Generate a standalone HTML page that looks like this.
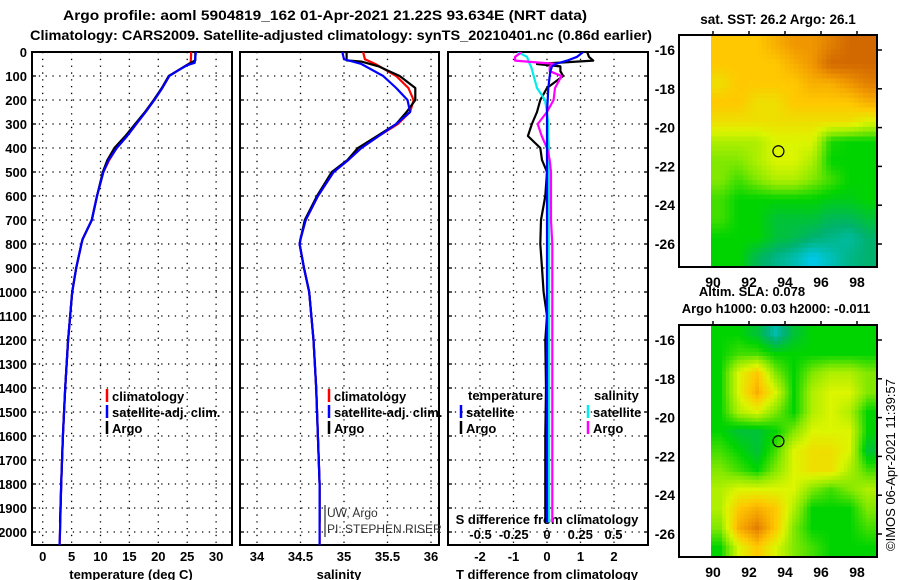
<!DOCTYPE html>
<html><head><meta charset="utf-8"><style>
html,body{margin:0;padding:0;background:#fff;}
svg{display:block;font-family:"Liberation Sans",sans-serif;font-weight:bold;}
</style></head><body>
<svg id="root" width="900" height="580" viewBox="0 0 900 580" xmlns="http://www.w3.org/2000/svg">
<defs>
<clipPath id="c1"><rect x="32" y="52" width="200" height="493"/></clipPath>
<clipPath id="c2"><rect x="240" y="52" width="199" height="493"/></clipPath>
<clipPath id="c3"><rect x="448" y="52" width="200" height="493"/></clipPath>
<clipPath id="cm1"><rect x="711" y="35" width="166" height="232"/></clipPath>
<clipPath id="cm2"><rect x="711" y="325" width="166" height="232"/></clipPath>
</defs>
<text x="325" y="20" text-anchor="middle" font-size="14" textLength="524" lengthAdjust="spacingAndGlyphs">Argo profile: aoml 5904819_162 01-Apr-2021 21.22S 93.634E (NRT data)</text>
<text x="341" y="40" text-anchor="middle" font-size="14" textLength="622" lengthAdjust="spacingAndGlyphs">Climatology: CARS2009. Satellite-adjusted climatology: synTS_20210401.nc (0.86d earlier)</text>
<g id="g"></g>
</svg>
<script>
// ---- data ----
const depthTicks=[0,100,200,300,400,500,600,700,800,900,1000,1100,1200,1300,1400,1500,1600,1700,1800,1900,2000];
const tempTicks=[0,5,10,15,20,25,30];
const salTicks=[34,34.5,35,35.5,36];
const salTickLabels=["34","34.5","35","35.5","36"];
const tdiffTicks=[-2,-1,0,1,2];
const sdiffTicks=[-0.5,-0.25,0,0.25,0.5];
const sdiffTickLabels=["-0.5","-0.25","0","0.25","0.5"];

const argoDepth=[0,35,45,55,80,100,150,200,250,300,350,400,450,500,600,700,780,800,900,1000,1200,1400,1600,1800,1960];
const argoTemp=[26.4,26.4,25.6,24.9,23.2,21.8,20.6,19.2,17.7,16.0,14.3,12.4,11.2,10.4,9.4,8.5,6.9,6.7,5.8,5.1,4.4,3.9,3.5,3.2,3.0];
const climDepth=[0,45,55,80,100,150,200,250,300,350,400,450,500,600,700,780,800,900,1000,1200,1400,1600,1800,2000,2060];
const climTemp=[25.7,25.6,24.9,23.2,21.9,20.7,19.3,17.8,16.2,14.6,12.8,11.5,10.5,9.4,8.5,6.9,6.7,5.8,5.1,4.4,3.9,3.5,3.2,3.0,2.9];
const satTemp=[26.5,26.3,25.0,23.2,21.9,20.7,19.3,17.8,16.2,14.6,12.8,11.4,10.5,9.4,8.5,6.9,6.7,5.8,5.1,4.4,3.9,3.5,3.2,3.0,2.9];

const argoSalDepth=[0,35,40,60,80,100,150,200,250,300,350,400,450,500,600,700,780,800,900,1000,1200,1400,1600,1800,1960];
const argoSal=[35.03,35.03,35.2,35.4,35.52,35.64,35.82,35.82,35.72,35.6,35.38,35.16,35.04,34.86,34.69,34.55,34.5,34.49,34.54,34.6,34.65,34.68,34.7,34.72,34.72];
const climSalDepth=[0,30,50,100,150,200,250,300,350,400,450,500,600,700,780,800,900,1000,1200,1400,1600,1800,2000,2060];
const climSal=[35.22,35.24,35.36,35.6,35.74,35.8,35.76,35.62,35.4,35.2,35.05,34.88,34.7,34.56,34.5,34.49,34.54,34.6,34.65,34.68,34.7,34.72,34.72,34.72];
const satSal=[34.98,35.0,35.2,35.45,35.6,35.73,35.76,35.6,35.4,35.2,35.05,34.88,34.7,34.56,34.5,34.49,34.54,34.6,34.65,34.68,34.7,34.72,34.72,34.72];

const dDepth=[0,20,36,50,60,80,100,150,200,250,300,350,400,450,500,600,700,800,900,1000,1100,1200,1400,1600,1800,1960];
const tdiffArgo=[1.2,1.25,1.38,-0.3,0.4,0.4,0.48,0.0,-0.2,-0.3,-0.45,-0.57,-0.2,-0.15,0.0,-0.05,-0.18,-0.2,-0.15,-0.1,0.0,-0.05,-0.03,-0.05,-0.05,-0.05];
const tdiffSat=[1.08,0.9,0.6,0.25,0.15,0.1,0.08,0.04,0.02,0.0,0.0,0.0,0.0,0.0,0.0,0.0,0.0,0.0,0.0,0.0,0.0,0.0,0.0,0.0,0.0,0.0];
const sdiffArgo=[-0.19,-0.24,-0.24,0.07,0.02,0.02,0.11,0.06,0.05,0.0,-0.07,-0.04,0.0,0.02,0.03,0.03,0.03,0.04,0.04,0.04,0.04,0.04,0.04,0.04,0.04,0.04];
const sdiffSat=[-0.22,-0.15,-0.14,-0.13,-0.12,-0.11,-0.1,-0.075,-0.015,0.0,0.01,0.01,0.015,0.015,0.015,0.015,0.015,0.015,0.015,0.015,0.015,0.015,0.015,0.015,0.015,0.015];

const lonTicks=[90,92,94,96,98];
const latTicks=[-16,-18,-20,-22,-24,-26];
const sstGrid=[
[5,5,5,5.5,6,6,6.5,7,7],
[5,5,5,5,5.5,6,7,7,7],
[4.5,5,5,5,5,5.5,5.5,6,6.5],
[5,5,4.5,4.5,5,5,5,5,5.5],
[4.5,4.5,4.5,4.5,4.5,4.5,4.5,4.5,4],
[3.5,3.5,3.5,4,4,4,2.2,2,2],
[3,3,3.5,4,4,3.5,2,2,2],
[3,2.5,3,3.5,3.5,3,2.5,2,2],
[2.5,2,2,2,2,2,1.8,1.8,2],
[2.5,2,2,1.5,1.5,1.5,1.2,1.2,1.5],
[2,2,2,1.5,1.3,1,0.8,0.6,1],
[2,2,1.2,0.8,0.5,0,0.4,0.8,1]];
const slaGrid=[
[2,2,1.5,0.5,1.5,2,2,2,2],
[2,2.5,2.5,2,2,2,2,2,2],
[2,4,5,3,2,3,3.5,3.5,3],
[2,4,5.5,4,2,3.5,4,4,3],
[2,3.5,4,3,2,3.5,4,3.5,2],
[2,1.5,1.5,2,3,4,4,4,2],
[2.5,2,1.5,2.5,4,4.5,4.5,4,1.5],
[3,2.5,2,3,4,4.5,4.5,3.5,2.5],
[3.5,4,4,4,4,3,2.5,3,3.5],
[3.5,5,5.5,5,3.5,2,2,2,3],
[3,5.5,6.5,5,3,2,2,2,2.5],
[2,4,5,4,3,2.5,2,2,2]];
const argoLon=93.634, argoLat=-21.22;

// ---- helpers ----
const NS="http://www.w3.org/2000/svg";
const G=document.getElementById('g');
function mk(tag,attrs,parent){const e=document.createElementNS(NS,tag);for(const k in attrs)e.setAttribute(k,attrs[k]);(parent||G).appendChild(e);return e;}
const yD=d=>52+d*0.24;
const xT=t=>42.7+t*5.78;
const xS=s=>257+(s-34)*87;
const xTD=v=>547+v*33.5;
const xSD=v=>547+v*133;

const panels=[{x0:32,x1:232,name:'temperature-panel'},{x0:240,x1:439,name:'salinity-panel'},{x0:448,x1:648,name:'difference-panel'}];
const vgrid=[tempTicks.map(xT),salTicks.map(xS),tdiffTicks.map(xTD)];
panels.forEach((p,i)=>{
  depthTicks.forEach(d=>{
    const l=mk('line',{x1:p.x0,x2:p.x1,y1:yD(d),y2:yD(d),stroke:'#000','stroke-width':1.3,'stroke-dasharray':'1.3,5.5'});
    
    
    mk('line',{x1:p.x0,x2:p.x0+4,y1:yD(d),y2:yD(d),stroke:'#000','stroke-width':1.3});
    if(i===2) mk('line',{x1:p.x1-4,x2:p.x1,y1:yD(d),y2:yD(d),stroke:'#000','stroke-width':1.3});
  });
  vgrid[i].forEach(x=>{
    const l=mk('line',{x1:x,x2:x,y1:52,y2:545,stroke:'#000','stroke-width':1.3,'stroke-dasharray':'1.3,5.5'});
    
    
  });
  const r=mk('rect',{x:p.x0,y:52,width:p.x1-p.x0,height:493,fill:'none',stroke:'#000','stroke-width':2});
  
  
});

depthTicks.forEach(d=>{
  const t=mk('text',{x:27,y:yD(d)+5,'text-anchor':'end','font-size':13});
  t.textContent=d;
  
  
});
function xlabels(ticks,labels,fx,y,name){ticks.forEach((v,i)=>{const t=mk('text',{x:fx(v),y:y,'text-anchor':'middle','font-size':13});t.textContent=labels?labels[i]:v;});}
xlabels(tempTicks,null,xT,561,'temperature-tick-label');
xlabels(salTicks,salTickLabels,xS,561,'salinity-tick-label');
xlabels(tdiffTicks,null,xTD,561,'tdiff-tick-label');
xlabels(sdiffTicks,sdiffTickLabels,xSD,539,'sdiff-tick-label');
function txt(x,y,s,name,attrs){const t=mk('text',Object.assign({x:x,y:y,'font-size':13},attrs||{}));t.textContent=s;return t;}
txt(131,579,'temperature (deg C)','x-axis-title-temperature',{'text-anchor':'middle'});
txt(339,579,'salinity','x-axis-title-salinity',{'text-anchor':'middle'});
txt(547,579,'T difference from climatology','x-axis-title-tdiff',{'text-anchor':'middle'});
txt(547,524,'S difference from climatology','sdiff-axis-title',{'text-anchor':'middle'});

function series(depths,vals,fx,color,clip,name,w){
  const pts=depths.map((d,i)=>fx(vals[i]).toFixed(1)+','+yD(d).toFixed(1)).join(' ');
  const p=mk('polyline',{points:pts,fill:'none',stroke:color,'stroke-width':w||2.2,'clip-path':'url(#'+clip+')','stroke-linejoin':'round'});
  
  
}
series(climDepth,climTemp,xT,'#f00','c1','temperature-climatology-line');
series(argoDepth,argoTemp,xT,'#000','c1','temperature-argo-line');
series(climDepth,satTemp,xT,'#00f','c1','temperature-satellite-line');
series(climSalDepth,climSal,xS,'#f00','c2','salinity-climatology-line');
series(argoSalDepth,argoSal,xS,'#000','c2','salinity-argo-line');
series(climSalDepth,satSal,xS,'#00f','c2','salinity-satellite-line');
series(dDepth,tdiffArgo,xTD,'#000','c3','tdiff-argo-line');
series(dDepth,sdiffSat,xSD,'#0ee','c3','sdiff-satellite-line');
series(dDepth,sdiffArgo,xSD,'#f0f','c3','sdiff-argo-line');
series(dDepth,tdiffSat,xTD,'#00f','c3','tdiff-satellite-line');

function leg(x,y,color,label,name){
  mk('line',{x1:x,x2:x,y1:y-7,y2:y+6,stroke:color,'stroke-width':2.5});
  txt(x+5,y+5,label,name);
}
leg(107,396,'#f00','climatology','legend-climatology');
leg(107,412,'#00f','satellite-adj. clim.','legend-satellite-adj');
leg(107,428,'#000','Argo','legend-argo');
leg(329,396,'#f00','climatology','legend-climatology-sal');
leg(329,412,'#00f','satellite-adj. clim.','legend-satellite-adj-sal');
leg(329,428,'#000','Argo','legend-argo-sal');
txt(468,400,'temperature','legend-temperature-header');
leg(461,412,'#00f','satellite','legend-tdiff-satellite');
leg(461,428,'#000','Argo','legend-tdiff-argo');
txt(594,400,'salinity','legend-salinity-header');
leg(588,412,'#0ee','satellite','legend-sdiff-satellite');
leg(588,428,'#f0f','Argo','legend-sdiff-argo');
txt(327,517,'UW, Argo','data-source-label',{'font-weight':'normal','font-size':12,fill:'#333'});
txt(327,533,'PI: STEPHEN RISER','pi-label',{'font-weight':'normal','font-size':12,fill:'#333'});
mk('line',{x1:325,x2:325,y1:505,y2:537,stroke:'#000','stroke-width':1});

// maps
const stops=[[0,[0,200,235]],[1,[0,178,110]],[2,[0,212,0]],[3,[130,232,0]],[4,[220,245,0]],[5,[255,200,0]],[6,[240,150,0]],[7,[210,105,0]]];
function col(v){for(let i=0;i<stops.length-1;i++){const[a,ca]=stops[i],[b,cb]=stops[i+1];if(v<=b){const f=Math.max(0,(v-a)/(b-a));return 'rgb('+ca.map((c,k)=>Math.round(c+(cb[k]-c)*f)).join(',')+')';}}return 'rgb(210,105,0)';}
function sample(grid,gx,gy){
  const R=grid.length,C=grid[0].length;
  gx=Math.max(0,Math.min(C-1,gx));gy=Math.max(0,Math.min(R-1,gy));
  const x0=Math.floor(gx),y0=Math.floor(gy),x1=Math.min(C-1,x0+1),y1=Math.min(R-1,y0+1);
  const fx=gx-x0,fy=gy-y0;
  return grid[y0][x0]*(1-fx)*(1-fy)+grid[y0][x1]*fx*(1-fy)+grid[y1][x0]*(1-fx)*fy+grid[y1][x1]*fx*fy;
}
function map(grid,y0,clip,name,sub){
  const fx=lon=>713+(lon-90)*18;
  const yl=lat=>y0+15+(-16-lat)*19.4;
  const gg=mk('g',{'clip-path':'url(#'+clip+')'});
  
  
  const C=grid[0].length*sub,R=grid.length*sub;
  const cw=166/C, ch=232/R;
  for(let r=0;r<R;r++)for(let c=0;c<C;c++){
    const v=sample(grid,(c+0.5)/sub-0.5,(r+0.5)/sub-0.5);
    const e=mk('rect',{x:(711+c*cw).toFixed(2),y:(y0+r*ch).toFixed(2),width:(cw+0.4).toFixed(2),height:(ch+0.4).toFixed(2),fill:col(v)},gg);
    
    
  }
  const fr=mk('rect',{x:679,y:y0,width:198,height:232,fill:'none',stroke:'#000','stroke-width':2});
  
  
  lonTicks.forEach(l=>{mk('line',{x1:fx(l),x2:fx(l),y1:y0-4,y2:y0,stroke:'#000','stroke-width':1.5});
    txt(fx(l),y0+232+20,String(l),'longitude-tick-label',{'text-anchor':'middle','font-size':14});});
  latTicks.forEach(l=>{mk('line',{x1:877,x2:882,y1:yl(l),y2:yl(l),stroke:'#000','stroke-width':1.5});
    txt(675,yl(l)+5,String(l),'latitude-tick-label',{'text-anchor':'end','font-size':14});});
  const c=mk('circle',{cx:fx(argoLon),cy:yl(argoLat),r:5.5,fill:'none',stroke:'#000','stroke-width':1.2});
  
  
}
map(sstGrid,35,'cm1','sst-map',4);
map(slaGrid,325,'cm2','sla-map',5);
txt(778,24,'sat. SST: 26.2 Argo: 26.1','sst-map-title',{'text-anchor':'middle','font-size':13.5});
txt(752,296,'Altim. SLA: 0.078','sla-title',{'text-anchor':'middle','font-size':13});
txt(776,313,'Argo h1000: 0.03 h2000: -0.011','sla-argo-title',{'text-anchor':'middle','font-size':13});
txt(895,465,'©IMOS 06-Apr-2021 11:39:57','imos-timestamp',{'text-anchor':'middle','font-size':13,'font-weight':'normal',transform:'rotate(-90 895 465)'});
</script>
</body></html>
